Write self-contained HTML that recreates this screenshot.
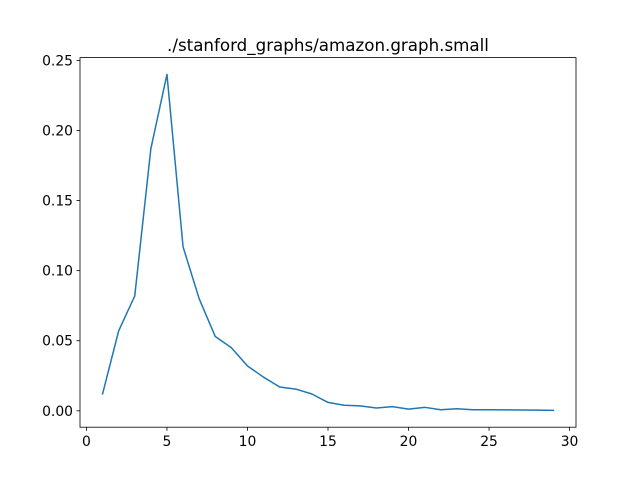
<!DOCTYPE html>
<html><head><meta charset="utf-8"><style>
body{margin:0;background:#fff;}
svg text{font-family:"DejaVu Sans","Liberation Sans",sans-serif;fill:#000;}
</style></head><body>
<svg id="chart" width="640" height="480" xmlns="http://www.w3.org/2000/svg">
<rect width="640" height="480" fill="#fff"/>
<text x="328" y="51" font-size="16.7" text-anchor="middle">./stanford_graphs/amazon.graph.small</text>
<g id="ticks"></g>
<path id="line" fill="none" stroke="#1f77b4" stroke-width="1.5" stroke-linejoin="round" stroke-linecap="square"/>
<rect x="80" y="57.6" width="496" height="369.6" fill="none" stroke="#000" stroke-width="0.8"/>
</svg>
<script>
const xValues=[1,2,3,4,5,6,7,8,9,10,11,12,13,14,15,16,17,18,19,20,21,22,23,24,25,26,27,28,29];
const yValues=[0.012,0.057,0.082,0.187,0.240,0.117,0.080,0.053,0.045,0.032,0.024,0.017,0.0155,0.012,0.006,0.004,0.0035,0.002,0.003,0.0012,0.0025,0.0008,0.0015,0.0008,0.0008,0.0007,0.0006,0.0005,0.0003];
const xTicks=[0,5,10,15,20,25,30];
const yTicks=["0.00","0.05","0.10","0.15","0.20","0.25"];
const L=80,R=576,T=57.6,B=427.2;
const xmin=Math.min(...xValues),xmax=Math.max(...xValues);
const ymin=Math.min(...yValues),ymax=Math.max(...yValues);
const xlo=xmin-(xmax-xmin)*0.05,xhi=xmax+(xmax-xmin)*0.05;
const ylo=ymin-(ymax-ymin)*0.05,yhi=ymax+(ymax-ymin)*0.05;
const sx=v=>L+(v-xlo)/(xhi-xlo)*(R-L);
const sy=v=>B-(v-ylo)/(yhi-ylo)*(B-T);
const NS="http://www.w3.org/2000/svg";
const g=document.getElementById('ticks');
function mk(t,a){const e=document.createElementNS(NS,t);for(const k in a)e.setAttribute(k,a[k]);g.appendChild(e);return e;}
xTicks.forEach(v=>{const x=sx(v);
 const l=mk('line',{x1:x,x2:x,y1:B,y2:B+3.5,stroke:'#000','stroke-width':0.8});
 
 
 const t=mk('text',{x:x,y:B+19,'font-size':13.9,'text-anchor':'middle'});t.textContent=v;
 
 });
yTicks.forEach(s=>{const y=sy(parseFloat(s));
 const l=mk('line',{x1:L-3.5,x2:L,y1:y,y2:y,stroke:'#000','stroke-width':0.8});
 
 
 const t=mk('text',{x:L-7,y:y+5,'font-size':13.9,'text-anchor':'end'});t.textContent=s;
 
 });
document.getElementById('line').setAttribute('d',xValues.map((x,i)=>(i?'L':'M')+sx(x).toFixed(2)+','+sy(yValues[i]).toFixed(2)).join(''));
</script>
</body></html>
